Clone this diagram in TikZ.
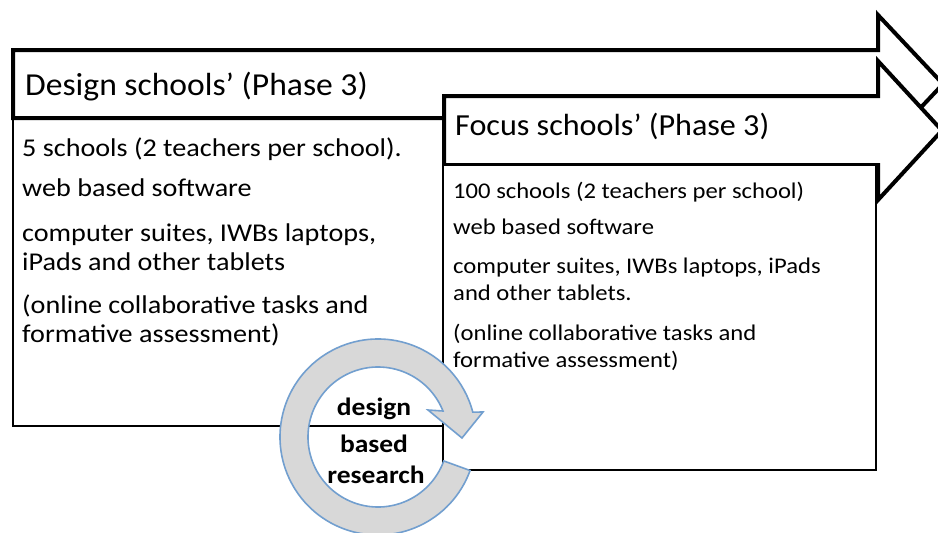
\documentclass[tikz,border=0pt]{standalone}
\usepackage{fontspec}
\setmainfont{Carlito}
\newfontfamily\bodyfont[FakeStretch=1.1]{Carlito}
\newfontfamily\titlefont[FakeStretch=1.05]{Carlito}
\definecolor{ringfill}{RGB}{216,216,216}
\definecolor{ringline}{RGB}{114,159,207}
\begin{document}
\begin{tikzpicture}[x=1pt,y=1pt,
  arrowline/.style={draw=black,line width=4pt,fill=white,line join=miter},
  boxline/.style={draw=black,line width=2.4pt,fill=white},
  ringshape/.style={draw=ringline,line width=1.6pt,fill=ringfill,line join=miter},
  dtext/.style={anchor=base west,inner sep=0pt,font=\bodyfont\fontsize{25.6}{28}\selectfont},
  ftext/.style={anchor=base west,inner sep=0pt,font=\bodyfont\fontsize{22.4}{26}\selectfont},
  rtext/.style={anchor=base,inner sep=0pt,font=\bodyfont\bfseries\fontsize{25}{28}\selectfont}]
\useasboundingbox (0,0) rectangle (938,-533);
\clip (0,0) rectangle (938,-533);
% design schools
\draw[boxline] (13,-118) rectangle (443,-426);
\draw[arrowline] (13,-50) -- (878,-50) -- (878,-15) -- (943,-84) -- (878,-153) -- (878,-118) -- (13,-118) -- cycle;
% focus schools
\draw[arrowline] (444,-96) -- (878,-96) -- (878,-61) -- (942,-130.5) -- (878,-200) -- (878,-165) -- (444,-165) -- cycle;
\draw[boxline] (443,-165) rectangle (876,-470);
% titles
\node[anchor=base west,inner sep=0pt,font=\titlefont\fontsize{32}{36}\selectfont] (dtitle) at (25,-95) {Design schools’ (Phase 3)};
\node[anchor=base west,inner sep=0pt,font=\titlefont\fontsize{30.6}{34}\selectfont] (ftitle) at (455,-135) {Focus schools’ (Phase 3)};
% design body
\node[dtext] (d1) at (22,-156) {5 schools (2 teachers per school).};
\node[dtext] (d2) at (22,-196) {web based software};
\node[dtext] (d3) at (22,-241) {computer suites, IWBs laptops,};
\node[dtext] (d4) at (22,-270) {iPads and other tablets};
\node[dtext] (d5) at (22,-313) {(online collaborative tasks and};
\node[dtext] (d6) at (22,-342) {formative assessment)};
% focus body
\node[ftext] (f1) at (453,-198.5) {100 schools (2 teachers per school)};
\node[ftext] (f2) at (453,-234) {web based software};
\node[ftext] (f3) at (453,-273) {computer suites, IWBs laptops, iPads};
\node[ftext] (f4) at (453,-300) {and other tablets.};
\node[ftext] (f5) at (453,-340) {(online collaborative tasks and};
\node[ftext] (f6) at (453,-367) {formative assessment)};
% design based research cycle
\draw[ringshape] ([shift={(378,-437)}]-20:98) arc[start angle=-20,end angle=-345.3,radius=98]
  -- (483,-412) -- (462,-438) -- (428,-410)
  -- ([shift={(378,-437)}]-338.2:70) arc[start angle=-338.2,end angle=-20,radius=70] -- cycle;
\node[rtext] (r1) at (374,-415) {design};
\node[rtext] (r2) at (374,-452) {based};
\node[rtext] (r3) at (376,-483) {research};
\end{tikzpicture}
\end{document}
